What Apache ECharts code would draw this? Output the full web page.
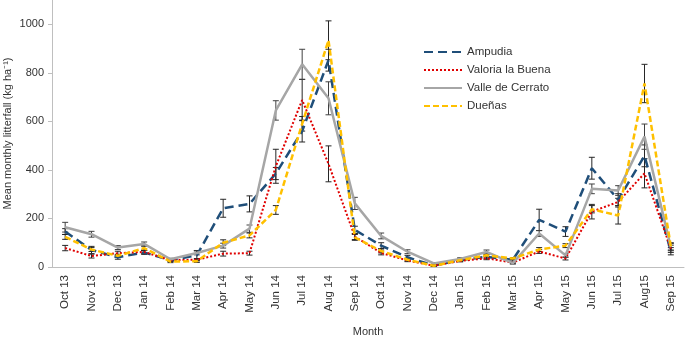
<!DOCTYPE html>
<html>
<head>
<meta charset="utf-8">
<script src="https://cdn.jsdelivr.net/npm/echarts@6/dist/echarts.min.js"></script>
<style>
  html, body { margin: 0; padding: 0; background: #fff; }
  #chart { width: 685px; height: 337px; }
</style>
</head>
<body>
<div id="chart"></div>
<script>
const months = ['Oct 13', 'Nov 13', 'Dec 13', 'Jan 14', 'Feb 14', 'Mar 14', 'Apr 14', 'May 14',
    'Jun 14', 'Jul 14', 'Aug 14', 'Sep 14', 'Oct 14', 'Nov 14', 'Dec 14', 'Jan 15', 'Feb 15',
    'Mar 15', 'Apr 15', 'May 15', 'Jun 15', 'Jul 15', 'Aug15', 'Sep 15'];
const yTicks = [0, 200, 400, 600, 800, 1000];

// mean monthly litterfall per site (kg ha-1)
const ampudia = [146, 70, 40, 60, 28, 48, 242, 260, 385, 560, 852, 153,
    88, 40, 6, 28, 42, 30, 194, 146, 407, 277, 458, 65];
const valoria = [78, 45, 57, 62, 28, 30, 55, 57, 415, 688, 425, 125,
    58, 27, 5, 25, 36, 18, 64, 35, 228, 268, 386, 75];
const valle = [164, 135, 80, 95, 32, 58, 88, 158, 645, 835, 695, 262,
    128, 63, 15, 33, 62, 16, 138, 48, 322, 315, 537, 82];
const duenas = [124, 72, 46, 78, 22, 24, 100, 130, 235, 590, 934, 122,
    66, 30, 5, 28, 48, 35, 72, 88, 238, 212, 756, 85];

// error bar half widths
const ampudiaErr = [12, 15, 8, 8, 5, 20, 37, 33, 25, 45, 45, 15, 12, 8, 3, 5, 8, 5, 44, 20, 45, 25, 45, 15];
const valoriaErr = [11, 8, 8, 6, 4, 5, 10, 8, 70, 85, 74, 12, 8, 5, 2, 4, 6, 4, 8, 6, 30, 15, 60, 15];
const valleErr = [20, 12, 8, 8, 4, 8, 10, 15, 40, 62, 68, 25, 12, 8, 3, 5, 8, 4, 12, 8, 20, 20, 52, 15];
const duenasErr = [10, 8, 6, 8, 4, 5, 12, 10, 18, 30, 80, 12, 8, 5, 3, 4, 6, 4, 8, 8, 15, 35, 79, 15];

const font = 'Liberation Sans, Arial, sans-serif';

let chart = echarts.init(document.getElementById('chart'));

let errData = function (vals, errs) {
    return vals.map((v, i) => [i, v - errs[i], v + errs[i]]);
};

let errorBars = function (name, vals, errs, color) {
    return {
        type: 'custom',
        name: name + ' err',
        z: 1,
        silent: true,
        data: errData(vals, errs),
        renderItem: function (params, api) {
            let lo = api.coord([api.value(0), api.value(1)]);
            let hi = api.coord([api.value(0), api.value(2)]);
            let w = 3;
            let style = { stroke: color, lineWidth: 1 };
            return {
                type: 'group',
                children: [
                    { type: 'line', shape: { x1: lo[0], y1: lo[1], x2: hi[0], y2: hi[1] }, style },
                    { type: 'line', shape: { x1: lo[0] - w, y1: lo[1], x2: lo[0] + w, y2: lo[1] }, style },
                    { type: 'line', shape: { x1: hi[0] - w, y1: hi[1], x2: hi[0] + w, y2: hi[1] }, style }
                ]
            };
        }
    };
};

let lineSeries = function (name, vals, color, width, dash) {
    return {
        type: 'line',
        name: name,
        data: vals,
        z: 2,
        symbol: 'none',
        lineStyle: { color: color, width: width, type: dash },
        itemStyle: { color: color }
    };
};

let option = {
    animation: false,
    grid: { left: 52, right: 1, top: 0, bottom: 70, outerBoundsMode: 'none' },
    legend: {
        orient: 'vertical',
        left: 418,
        top: 41,
        itemWidth: 38,
        itemHeight: 14,
        itemGap: 6,
        itemStyle: { opacity: 0 },
        textStyle: { fontFamily: font, fontSize: 11.5, color: '#333' },
        data: ['Ampudia', 'Valoria la Buena', 'Valle de Cerrato', 'Dueñas']
    },
    xAxis: {
        type: 'category',
        data: months,
        boundaryGap: true,
        name: 'Month',
        nameLocation: 'middle',
        nameGap: 59,
        nameMoveOverlap: false,
        nameTextStyle: { fontFamily: font, fontSize: 11, color: '#333' },
        axisLine: { lineStyle: { color: '#bfbfbf', width: 1 } },
        axisTick: { show: false },
        axisLabel: { rotate: 90, interval: 0, margin: 8, fontFamily: font, fontSize: 11.5, color: '#333' }
    },
    yAxis: {
        type: 'value',
        min: 0,
        max: 1100,
        interval: 200,
        name: 'Mean monthly litterfall (kg ha\u207B\u00B9)',
        nameLocation: 'middle',
        nameGap: 39,
        nameMoveOverlap: false,
        nameTextStyle: { fontFamily: font, fontSize: 11, color: '#333' },
        axisLine: { show: true, lineStyle: { color: '#bfbfbf', width: 1 } },
        axisTick: { show: true, length: 4, customValues: yTicks, lineStyle: { color: '#bfbfbf' } },
        axisLabel: {
            customValues: yTicks, margin: 8, fontFamily: font, fontSize: 11, color: '#333',
            formatter: v => String(v)
        },
        splitLine: { show: false }
    },
    series: [
        errorBars('Ampudia', ampudia, ampudiaErr, '#262626'),
        errorBars('Valoria la Buena', valoria, valoriaErr, '#262626'),
        errorBars('Valle de Cerrato', valle, valleErr, '#404040'),
        errorBars('Dueñas', duenas, duenasErr, '#262626'),
        lineSeries('Ampudia', ampudia, '#1f4e79', 2.5, [9, 5]),
        lineSeries('Valoria la Buena', valoria, '#e00000', 2, [2, 2]),
        lineSeries('Valle de Cerrato', valle, '#a6a6a6', 2.5, 'solid'),
        lineSeries('Dueñas', duenas, '#ffc000', 2.5, [6, 3])
    ]
};
chart.setOption(option);
</script>
</body>
</html>
